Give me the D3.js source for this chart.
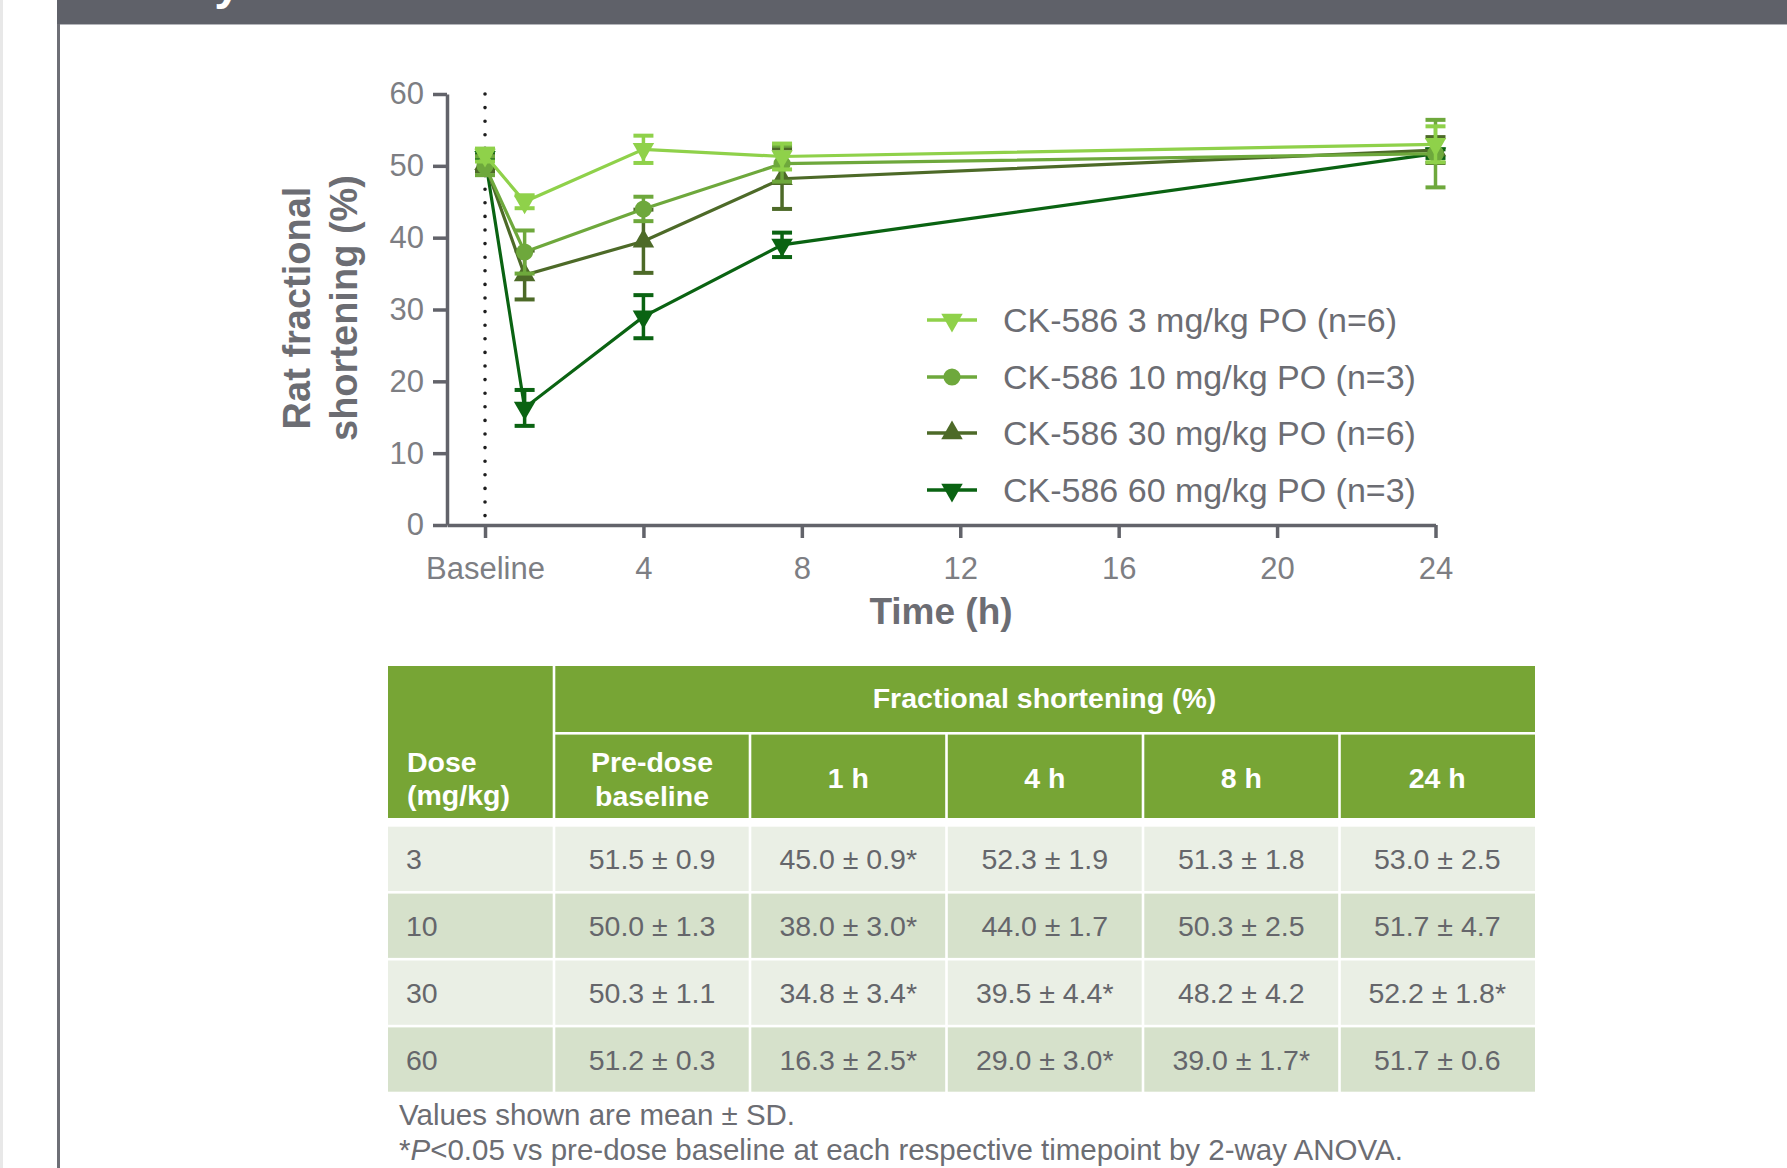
<!DOCTYPE html>
<html>
<head>
<meta charset="utf-8">
<script src="https://cdn.jsdelivr.net/npm/d3@7"></script>
<style>
  html, body { margin: 0; padding: 0; background: #fff; }
  svg { display: block; }
  text { font-family: "Liberation Sans", Arial, Helvetica, sans-serif; }
</style>
</head>
<body>
<svg id="fig" width="1787" height="1168"></svg>
<script>
// ---- data -------------------------------------------------------------
const timeHeaders   = ["Pre-dose baseline", "1 h", "4 h", "8 h", "24 h"];
const sampleHours   = [0, 1, 4, 7.5, 24];          // x position of each sample on the time axis
const xTicks        = [0, 4, 8, 12, 16, 20, 24];
const xTickLabels   = ["Baseline", "4", "8", "12", "16", "20", "24"];
const yTicks        = [0, 10, 20, 30, 40, 50, 60];
const doses         = ["3", "10", "30", "60"];
const seriesNames   = ["CK-586 3 mg/kg PO (n=6)", "CK-586 10 mg/kg PO (n=3)",
                       "CK-586 30 mg/kg PO (n=6)", "CK-586 60 mg/kg PO (n=3)"];

const mean3  = [51.5, 45.0, 52.3, 51.3, 53.0];
const sd3    = [0.9, 0.9, 1.9, 1.8, 2.5];
const sig3   = [0, 1, 0, 0, 0];

const mean10 = [50.0, 38.0, 44.0, 50.3, 51.7];
const sd10   = [1.3, 3.0, 1.7, 2.5, 4.7];
const sig10  = [0, 1, 0, 0, 0];

const mean30 = [50.3, 34.8, 39.5, 48.2, 52.2];
const sd30   = [1.1, 3.4, 4.4, 4.2, 1.8];
const sig30  = [0, 1, 1, 0, 1];

const mean60 = [51.2, 16.3, 29.0, 39.0, 51.7];
const sd60   = [0.3, 2.5, 3.0, 1.7, 0.6];
const sig60  = [0, 1, 1, 1, 0];

const series = [
  { dose: doses[0], name: seriesNames[0], mean: mean3,  sd: sd3,  sig: sig3,  color: "#8fd14a", shape: "down" },
  { dose: doses[1], name: seriesNames[1], mean: mean10, sd: sd10, sig: sig10, color: "#6ea83c", shape: "circle" },
  { dose: doses[2], name: seriesNames[2], mean: mean30, sd: sd30, sig: sig30, color: "#4d6a28", shape: "up" },
  { dose: doses[3], name: seriesNames[3], mean: mean60, sd: sd60, sig: sig60, color: "#0a6312", shape: "down" }
];

// ---- page frame ---------------------------------------------------------
const svg = d3.select("#fig");
const FONT_GREY = "#6c6d73";

svg.append("rect").attr("x", 0).attr("y", 0).attr("width", 3).attr("height", 1168).attr("fill", "#e8e8e8");
svg.append("rect").attr("x", 57).attr("y", 0).attr("width", 1730).attr("height", 24).attr("fill", "#5f6169");
svg.append("rect").attr("x", 57).attr("y", 24).attr("width", 1730).attr("height", 1).attr("fill", "#b4b5ba");
svg.append("rect").attr("x", 57).attr("y", 24).attr("width", 3).attr("height", 1144).attr("fill", "#6e6f76");
// section heading, sitting mostly above the top edge of the page
svg.append("text").attr("x", 241).attr("y", -1.5).attr("text-anchor", "end")
  .attr("font-size", 48).attr("font-weight", "bold").attr("fill", "#fff").text("Efficacy");

// ---- chart --------------------------------------------------------------
const x = d3.scaleLinear().domain([-0.96, 24]).range([447, 1435.5]);
const y = d3.scaleLinear().domain([0, 60]).range([525, 94]);
const AXIS = "#62636a";

const yAxis = svg.append("g").attr("transform", `translate(${x(-0.96)},0)`)
  .call(d3.axisLeft(y).tickValues(yTicks).tickSize(14).tickSizeOuter(0).tickPadding(9));
const xAxis = svg.append("g").attr("transform", `translate(0,${y(0)})`)
  .call(d3.axisBottom(x).tickValues(xTicks).tickFormat((d, i) => xTickLabels[i])
        .tickSize(13).tickSizeOuter(0).tickPadding(19));

[yAxis, xAxis].forEach(g => {
  g.select(".domain").attr("stroke", AXIS).attr("stroke-width", 3.5);
  g.selectAll(".tick line").attr("stroke", AXIS).attr("stroke-width", 3.5);
  g.selectAll(".tick text").attr("fill", "#7d7e83").attr("font-size", 31)
    .attr("font-family", "Liberation Sans, Arial, sans-serif");
});

// dotted marker at dosing time
svg.append("line")
  .attr("x1", x(0)).attr("x2", x(0)).attr("y1", y(60)).attr("y2", y(0))
  .attr("stroke", "#1e1e1e").attr("stroke-width", 3.6)
  .attr("stroke-linecap", "round").attr("stroke-dasharray", "0,13.6");

// axis titles
svg.append("text").attr("x", 941).attr("y", 624).attr("text-anchor", "middle")
  .attr("font-size", 37).attr("font-weight", "bold").attr("fill", FONT_GREY).text("Time (h)");
const yTitle = svg.append("g").attr("transform", "translate(0,308) rotate(-90)");
yTitle.append("text").attr("x", 0).attr("y", 310).attr("text-anchor", "middle")
  .attr("font-size", 38).attr("font-weight", "bold").attr("fill", FONT_GREY).text("Rat fractional");
yTitle.append("text").attr("x", 0).attr("y", 357).attr("text-anchor", "middle")
  .attr("font-size", 38).attr("font-weight", "bold").attr("fill", FONT_GREY).text("shortening (%)");

// markers
const symbolFor = shape => shape === "circle"
  ? d3.symbol().type(d3.symbolCircle).size(230)()
  : d3.symbol().type(d3.symbolTriangle).size(200)();
const rotFor = shape => shape === "down" ? " rotate(180)" : "";

const line = d3.line().x((d, i) => x(sampleHours[i])).y(d => y(d));
const CAP = 10;

// heaviest dose first so the lighter series sit on top
series.slice().reverse().forEach(s => {
  const g = svg.append("g");
  s.mean.forEach((m, i) => {
    const cx = x(sampleHours[i]);
    const lo = y(m - s.sd[i]), hi = y(m + s.sd[i]);
    g.append("line").attr("x1", cx).attr("x2", cx).attr("y1", lo).attr("y2", hi)
      .attr("stroke", s.color).attr("stroke-width", 3.5);
    [lo, hi].forEach(yy => g.append("line")
      .attr("x1", cx - CAP).attr("x2", cx + CAP).attr("y1", yy).attr("y2", yy)
      .attr("stroke", s.color).attr("stroke-width", 4));
  });
  g.append("path").attr("d", line(s.mean)).attr("fill", "none")
    .attr("stroke", s.color).attr("stroke-width", 3.2);
  s.mean.forEach((m, i) => {
    g.append("path").attr("d", symbolFor(s.shape))
      .attr("transform", `translate(${x(sampleHours[i])},${y(m)})${rotFor(s.shape)}`)
      .attr("fill", s.color);
  });
});

// legend
const legendRows = [320, 377, 433, 490];
series.forEach((s, i) => {
  const ly = legendRows[i];
  svg.append("line").attr("x1", 927).attr("x2", 977).attr("y1", ly).attr("y2", ly)
    .attr("stroke", s.color).attr("stroke-width", 3.5);
  svg.append("path").attr("d", symbolFor(s.shape))
    .attr("transform", `translate(952,${ly})${rotFor(s.shape)}`).attr("fill", s.color);
  svg.append("text").attr("x", 1003).attr("y", ly + 12).attr("font-size", 34)
    .attr("fill", FONT_GREY).text(s.name);
});

// ---- table --------------------------------------------------------------
const HEAD = "#77a535", ROW_A = "#eaefe5", ROW_B = "#d6e1cb", CELL_TXT = "#65666b";
const colEdges = [388, 554, 750, 946.5, 1143, 1339.5, 1535];
const GAP = 2.6;
const cx0 = i => colEdges[i] + (i === 0 ? 0 : GAP / 2);
const cx1 = i => colEdges[i + 1] - (i === colEdges.length - 2 ? 0 : GAP / 2);
const colMid = i => (colEdges[i] + colEdges[i + 1]) / 2;

const tbl = svg.append("g");
// header
tbl.append("rect").attr("x", cx0(0)).attr("y", 666).attr("width", cx1(0) - cx0(0)).attr("height", 152).attr("fill", HEAD);
tbl.append("rect").attr("x", cx0(1)).attr("y", 666).attr("width", colEdges[6] - cx0(1)).attr("height", 66).attr("fill", HEAD);
for (let c = 1; c < 6; c++) {
  tbl.append("rect").attr("x", cx0(c)).attr("y", 734.6).attr("width", cx1(c) - cx0(c)).attr("height", 83.4).attr("fill", HEAD);
}
const headText = (tx, ty, str, anchor) => tbl.append("text").attr("x", tx).attr("y", ty)
  .attr("text-anchor", anchor || "middle").attr("font-size", 28.5).attr("font-weight", "bold")
  .attr("fill", "#fff").text(str);
headText((colEdges[1] + colEdges[6]) / 2, 708, "Fractional shortening (%)");
headText(407, 772, "Dose", "start");
headText(407, 805, "(mg/kg)", "start");
const preWords = timeHeaders[0].split(" ");
headText(colMid(1), 772, preWords[0]);
headText(colMid(1), 806, preWords[1]);
for (let c = 2; c < 6; c++) headText(colMid(c), 788, timeHeaders[c - 1]);

// body rows
const BODY_TOP = 826.7, PITCH = 66.9;
series.forEach((s, r) => {
  const top = BODY_TOP + r * PITCH, h = PITCH - GAP, mid = top + h / 2;
  for (let c = 0; c < 6; c++) {
    tbl.append("rect").attr("x", cx0(c)).attr("y", top).attr("width", cx1(c) - cx0(c)).attr("height", h)
      .attr("fill", r % 2 === 0 ? ROW_A : ROW_B);
  }
  tbl.append("text").attr("x", 406).attr("y", mid + 10).attr("font-size", 28.5)
    .attr("fill", CELL_TXT).text(s.dose);
  s.mean.forEach((m, i) => {
    tbl.append("text").attr("x", colMid(i + 1)).attr("y", mid + 10).attr("text-anchor", "middle")
      .attr("font-size", 28.5).attr("fill", CELL_TXT)
      .text(`${m.toFixed(1)} ± ${s.sd[i].toFixed(1)}${s.sig[i] ? "*" : ""}`);
  });
});

// footnotes
svg.append("text").attr("x", 399).attr("y", 1124.5).attr("font-size", 29.5).attr("fill", FONT_GREY)
  .text("Values shown are mean ± SD.");
const fn = svg.append("text").attr("x", 399).attr("y", 1160).attr("font-size", 29.5).attr("fill", FONT_GREY);
fn.append("tspan").text("*");
fn.append("tspan").attr("font-style", "italic").text("P");
fn.append("tspan").text("<0.05 vs pre-dose baseline at each respective timepoint by 2-way ANOVA.");
</script>
</body>
</html>
